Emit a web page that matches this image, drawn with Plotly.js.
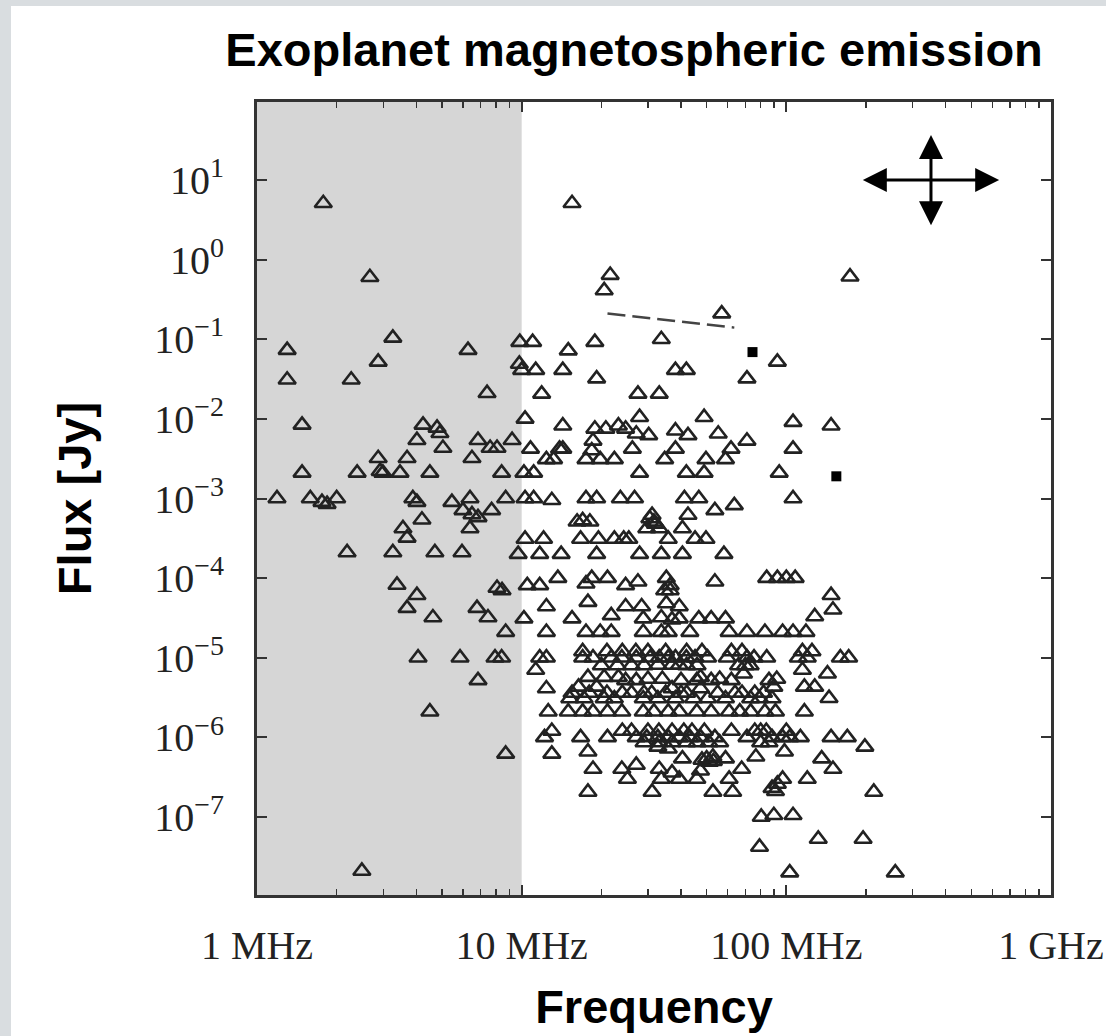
<!DOCTYPE html>
<html>
<head>
<meta charset="utf-8">
<script src="https://cdn.plot.ly/plotly-3.0.1.min.js"></script>
<style>
html, body { margin: 0; padding: 0; background: #d9dde0; }
#chart { position: absolute; left: 11px; top: 6px; width: 1095px; height: 1030px; background: #fff; }
</style>
</head>
<body>
<div id="chart"></div>
<script>
// ---- axis ticks ----
const xTickVals = [1, 10, 100, 1000];
const xTickText = ['1 MHz', '10 MHz', '100 MHz', '1 GHz'];
const yTickVals = [1e-7, 1e-6, 1e-5, 1e-4, 1e-3, 1e-2, 1e-1, 1, 10];
const yTickText = ['10<sup>−7</sup>', '10<sup>−6</sup>', '10<sup>−5</sup>', '10<sup>−4</sup>', '10<sup>−3</sup>',
                   '10<sup>−2</sup>', '10<sup>−1</sup>', '10<sup>0</sup>', '10<sup>1</sup>'];

// ---- shaded band (ionospheric cutoff), MHz ----
const bandFreq = [1, 10];

// ---- predicted exoplanet fluxes [frequency MHz, flux Jy], below 10 MHz ----
const lowFreqPts = [
  [1.78,5.1],[2.67,0.6],[1.30,0.073],[1.30,0.031],[2.27,0.031],[2.87,0.052],[3.26,0.104],[6.27,0.073],[7.4,0.021],
  [1.48,0.0084],[4.24,0.0084],[4.79,0.0077],[4.91,0.0066],[5.04,0.0043],[4.02,0.0054],[6.84,0.0054],[7.6,0.0043],
  [8.07,0.0043],[9.2,0.0054],[2.87,0.0032],[3.69,0.0032],[6.49,0.0032],[1.48,0.0021],[2.39,0.0021],[2.92,0.0022],
  [2.99,0.0021],[3.47,0.0021],[4.5,0.0021],[8.4,0.0021],
  [1.19,1e-3],[1.59,1e-3],[1.76,9e-4],[1.84,8.5e-4],[2.0,1e-3],[3.88,1e-3],[4.02,9e-4],[5.45,9e-4],[6.38,1e-3],
  [6.0,7.1e-4],[6.49,6.3e-4],[6.84,5.8e-4],[7.7,7.1e-4],[4.2,5.4e-4],[3.56,4.2e-4],[3.69,3.2e-4],[6.38,4.2e-4],
  [2.19,2.1e-4],[3.26,2.1e-4],[4.7,2.1e-4],[5.95,2.1e-4],[3.38,8.2e-5],[8.07,7.5e-5],[4.02,6.1e-5],[3.69,4.2e-5],
  [4.62,3.2e-5],[6.78,4.2e-5],[7.46,3.2e-5],[4.06,1e-5],[5.85,1e-5],[7.93,1e-5],[6.84,5.2e-6],[4.5,2.1e-6],
  [2.49,2.1e-8]
];

// ---- predicted fluxes, upper part (>= ~9 MHz, flux > 2e-3 Jy) ----
const highFluxPts = [
  [15.5,5.1],[21.6,0.64],[20.5,0.41],[174,0.61],[57,0.21],[9.84,0.092],[11.0,0.092],[18.9,0.092],[33.7,0.10],
  [15.0,0.072],[92.5,0.052],[9.8,0.049],[10.0,0.041],[11.3,0.041],[14.3,0.041],[38.1,0.041],[41.9,0.041],
  [19.2,0.032],[71,0.032],[11.9,0.0206],[27.5,0.0206],[33.1,0.0206],[10.3,0.01],[48.9,0.0105],[27.9,0.0105],
  [14.3,0.0082],[106,0.0091],[147.6,0.0082],[18.9,0.0075],[20.8,0.0075],[23.2,0.0082],[24.7,0.0075],
  [27.1,0.0065],[30.2,0.0062],[38.1,0.0071],[42.5,0.0062],[55.3,0.0065],[71,0.0053],[18.6,0.0053],[18.4,0.004],
  [10.8,0.0042],[13.9,0.0042],[14.3,0.0042],[26.2,0.0042],[38.1,0.0042],[61.8,0.0042],[106,0.0042],
  [12.4,0.0031],[13.2,0.0031],[17.5,0.0031],[19.8,0.0031],[22.4,0.0031],[34.7,0.0031],[49.7,0.0031],[58.9,0.0031],
  [10.2,0.0021],[11.1,0.0021],[27.9,0.0021],[41.9,0.0021],[48.9,0.0021],[94,0.0021]
];

// ---- predicted fluxes, lower part (>= ~8 MHz, flux <= 1e-3 Jy) ----
const lowFluxPts = [
  [8.7,1e-3],[10.3,1e-3],[11.1,1e-3],[13.0,9.5e-4],[17.5,1e-3],[19.2,1e-3],[23.6,1e-3],[26.7,1e-3],[41.2,1e-3],
  [46.7,1e-3],[106,1e-3],[53.7,7.1e-4],[63.6,8.2e-4],
  [16.2,5.1e-4],[18.1,5.1e-4],[31.1,6.2e-4],[31.6,5.1e-4],[42.5,6.2e-4],[29.7,4.2e-4],[33.1,4.2e-4],[40.5,4.2e-4],
  [17.0,5.3e-4],[30.5,5.6e-4],[32.0,4.8e-4],
  [10.3,3.1e-4],[12.1,3.1e-4],[16.7,3.1e-4],[19.5,3.1e-4],[22.4,3.1e-4],[24.3,3.1e-4],[25.4,3.1e-4],[35.8,3.1e-4],
  [45.2,3.1e-4],[49.7,3.1e-4],
  [9.7,2e-4],[11.7,2e-4],[14.1,2e-4],[19.2,2e-4],[27.9,2e-4],[33.7,2e-4],[40.5,2e-4],[58.1,2e-4],
  [10.5,8.1e-5],[11.7,8.1e-5],[13.7,1e-4],[17.5,8.5e-5],[18.4,1e-4],[21.1,1e-4],[24.7,8.1e-5],[27.5,9e-5],
  [35.2,1e-4],[36.4,8.1e-5],[53.7,9e-5],[84.3,1e-4],[92.5,1e-4],[100,1e-4],[108,1e-4],
  [8.43,7e-5],[147.6,6.1e-5],[150,4e-5],[34.7,7e-5],[36.4,7e-5],[17.8,5e-5],[12.4,4.4e-5],[24.7,4.4e-5],
  [28.4,4.4e-5],[35.2,4.8e-5],[39.4,4.4e-5],
  [10.2,3.1e-5],[15.5,3.1e-5],[21.8,3.4e-5],[28.8,3.1e-5],[33.7,3.2e-5],[37,3e-5],[39.4,3.1e-5],[46.7,3.1e-5],
  [52,3.1e-5],[58.9,3.1e-5],[128,3.3e-5],
  [8.7,2.1e-5],[12.4,2.1e-5],[17.5,2.1e-5],[19.8,2.1e-5],[21.8,2.1e-5],[28.8,2.1e-5],[33.7,2.1e-5],[35.8,2.1e-5],
  [43.2,2.1e-5],[60.8,2.1e-5],[71,2.1e-5],[83,2.1e-5],[96.8,2.1e-5],[106,2.1e-5],[118.6,2.1e-5],
  [17.0,1.2e-5],[21.0,1.2e-5],[24.0,1.2e-5],[27.0,1.2e-5],[30.0,1.2e-5],[35.0,1.2e-5],[42.0,1.2e-5],[48.0,1.2e-5],
  [62.0,1.2e-5],[68.0,1.2e-5],[115,1.2e-5],[125,1.2e-5],
  [8.4,1e-5],[11.7,1e-5],[12.4,1e-5],[17.0,1e-5],[18.6,1e-5],[21.8,1e-5],[23.9,1e-5],[27.1,1e-5],[30.6,1e-5],
  [33.1,1e-5],[35.8,1e-5],[38.1,1e-5],[41.9,1e-5],[45.2,1e-5],[50.4,1e-5],[59.8,1e-5],[71,1e-5],[75.5,1e-5],
  [84.3,1e-5],[111,1e-5],[120,1e-5],[160,1e-5],[172,1e-5],
  [32.7,8.1e-6],[37,8.1e-6],[39.4,8.1e-6],[11.3,7e-6],[68.9,6.3e-6],[115,7e-6],[143,6.3e-6],
  [20.0,8e-6],[23.0,8e-6],[26.0,8e-6],[29.0,8e-6],[42.0,8e-6],[46.0,8e-6],[66.0,8e-6],[70.0,8e-6],[73.0,8e-6],
  [17.8,5.7e-6],[20.5,5.7e-6],[23.2,5.7e-6],[24.7,5.2e-6],[27.1,5.2e-6],[47.4,5.7e-6],[45.9,5.2e-6],
  [30.0,5.4e-6],[34.0,5.4e-6],[40.0,5.2e-6],[52.0,5.2e-6],[56.0,5.4e-6],[62.0,5.2e-6],[86.0,5.2e-6],[92.0,5.4e-6],
  [12.4,4.1e-6],[16.4,4.3e-6],[19.2,4.3e-6],[37,4.1e-6],[47.4,4.1e-6],[89.7,4.3e-6],[117,4.3e-6],[128,4.3e-6],
  [145,3.1e-6],
  [15.5,3.6e-6],[18.0,3.6e-6],[21.0,3.6e-6],[24.0,3.6e-6],[26.0,3.6e-6],[29.0,3.6e-6],[31.0,3.6e-6],[35.0,3.6e-6],
  [40.0,3.6e-6],[42.0,3.6e-6],[55.0,3.6e-6],[64.0,3.6e-6],[68.0,3.6e-6],[76.0,3.6e-6],[82.0,3.6e-6],
  [15.2,3.07e-6],[17.2,3.07e-6],[20.5,3.07e-6],[22.4,3.07e-6],[28.8,3.07e-6],[32.7,3.07e-6],[38.1,3.07e-6],
  [44.6,3.07e-6],[50.4,3.07e-6],[58.9,3.07e-6],[73.3,3.07e-6],[79.2,3.07e-6],[88.3,3.07e-6],
  [12.6,2.1e-6],[15.0,2.1e-6],[17.0,2.1e-6],[18.6,2.1e-6],[21.1,2.1e-6],[23.9,2.1e-6],[28.8,2.1e-6],[31.6,2.1e-6],
  [35.8,2.1e-6],[39.4,2.1e-6],[45.9,2.1e-6],[52,2.1e-6],[60.8,2.1e-6],[66.7,2.1e-6],[73.3,2.1e-6],[83,2.1e-6],
  [91,2.1e-6],[117,2.1e-6],
  [13.0,1.2e-6],[24.0,1.2e-6],[26.0,1.2e-6],[30.0,1.2e-6],[33.0,1.2e-6],[37.0,1.2e-6],[41.0,1.2e-6],[44.0,1.2e-6],
  [49.0,1.2e-6],[62.0,1.2e-6],[76.0,1.2e-6],[80.0,1.2e-6],[84.0,1.2e-6],[100,1.2e-6],
  [12.2,1e-6],[16.7,1e-6],[21.1,1e-6],[27.1,1e-6],[29.7,1e-6],[32.7,1e-6],[35.8,1e-6],[39.4,1e-6],[43.2,1e-6],
  [47.4,1e-6],[53.7,1e-6],[71,1e-6],[88.3,1e-6],[96.8,1e-6],[103,1e-6],[113,1e-6],[147.6,1e-6],[170,1e-6],
  [29.0,8.6e-7],[33.0,8.6e-7],[37.0,8.6e-7],[42.0,8.6e-7],[46.0,8.6e-7],[51.0,8.6e-7],[56.0,8.6e-7],[80.0,8.6e-7],
  [86.0,8.6e-7],
  [8.7,6.2e-7],[13.0,6.2e-7],[17.8,6.6e-7],[32.7,7.6e-7],[35.8,7.2e-7],[40.5,5.4e-7],[52.8,5.7e-7],[58.9,5.4e-7],
  [76.7,5.7e-7],[98.4,6.6e-7],[136,5.4e-7],[198,7.6e-7],[51.2,4.9e-7],[48.0,5.2e-7],[50.0,5.4e-7],[53.0,5.0e-7],
  [18.6,4e-7],[23.9,4e-7],[27.1,4.5e-7],[33.1,4e-7],[37,3.6e-7],[47.4,3.8e-7],[67.8,4e-7],[150,4e-7],
  [25.1,3e-7],[33.7,3e-7],[39.4,3e-7],[45.9,3e-7],[60.8,3e-7],[96.8,3e-7],[120,3e-7],
  [17.8,2.06e-7],[31.1,2.06e-7],[52.8,2.06e-7],[62.7,2.06e-7],[91,2.1e-7],[214,2.06e-7],[88.3,2.3e-7],[92.5,2.6e-7],
  [80.4,1e-7],[89.7,1.05e-7],[106,1.05e-7],
  [79.2,4.2e-8],[132,5.3e-8],[195,5.3e-8],[103,2e-8],[258,2e-8]
];

// ---- observed (filled squares) ----
const obsFreq = [74.5, 154.5];
const obsFlux = [0.069, 0.0019];

// ---- dashed segment ----
const dashFreq = [21.1, 63.6];
const dashFlux = [0.21, 0.14];

// ---- arrow cross (uncertainty indicator) ----
const arrowHFreq = [192, 637];   // horizontal arrow ends, MHz
const arrowHFlux = 10;           // Jy
const arrowVFreq = 352;          // MHz
const arrowVFlux = [2.58, 36.9]; // vertical arrow ends, Jy

// ---- minor x ticks ----
const minorX = [];
[1, 10, 100].forEach(d => { for (let k = 2; k <= 9; k++) minorX.push(k * d); });

const allPts = lowFreqPts.concat(highFluxPts, lowFluxPts);

const traces = [
  {
    x: bandFreq.concat(bandFreq.slice().reverse()),
    y: [1e-10, 1e-10, 1e4, 1e4],
    type: 'scatter', mode: 'lines', fill: 'toself',
    fillcolor: '#d6d6d6', line: {width: 0}, hoverinfo: 'skip'
  },
  {
    x: dashFreq, y: dashFlux, type: 'scatter', mode: 'lines',
    line: {color: '#444', width: 2.5, dash: '18px,7px'}
  },
  {
    x: allPts.map(p => p[0]), y: allPts.map(p => p[1]),
    type: 'scatter', mode: 'markers',
    marker: {symbol: 'triangle-up-open', size: 15, color: '#222', line: {width: 2.6, color: '#222'}}
  },
  {
    x: obsFreq, y: obsFlux, type: 'scatter', mode: 'markers',
    marker: {symbol: 'square', size: 10, color: '#000'}
  }
];

const tickFont = {family: 'Liberation Serif, Times New Roman, serif', size: 40, color: '#222'};
const titleFont = {family: 'Liberation Sans, Arial, sans-serif', size: 47, color: '#000'};

const layout = {
  width: 1095, height: 1030,
  margin: {l: 246, r: 55, t: 96, b: 141},
  paper_bgcolor: '#fff', plot_bgcolor: '#fff',
  showlegend: false,
  title: {
    text: '<b>Exoplanet magnetospheric emission</b>',
    font: {family: 'Liberation Sans, Arial, sans-serif', size: 47, color: '#000'},
    xref: 'container', x: 0.569, xanchor: 'center',
    yref: 'container', y: 0.958, yanchor: 'middle'
  },
  xaxis: {
    type: 'log', range: [0, 3],
    tickvals: xTickVals, ticktext: xTickText,
    ticks: 'inside', ticklen: 10, tickwidth: 2, tickcolor: '#333',
    minor: {tickvals: minorX, ticks: 'inside', ticklen: 6, tickwidth: 1.5, tickcolor: '#333', showgrid: false},
    showline: true, linecolor: '#333', linewidth: 3, mirror: 'allticks',
    showgrid: false, zeroline: false,
    tickfont: tickFont, ticklabelstandoff: 13,
    title: {text: '<b>Frequency</b>', font: titleFont, standoff: 24}
  },
  yaxis: {
    type: 'log', range: [-7.98, 1.98],
    tickvals: yTickVals, ticktext: yTickText,
    ticks: 'inside', ticklen: 10, tickwidth: 2, tickcolor: '#333',
    showline: true, linecolor: '#333', linewidth: 3, mirror: 'allticks',
    showgrid: false, zeroline: false,
    tickfont: tickFont, ticklabelstandoff: 22,
    title: {text: '<b>Flux [Jy]</b>', font: titleFont, standoff: 48}
  },
  annotations: [
    {
      xref: 'x', yref: 'y', axref: 'x', ayref: 'y',
      x: Math.log10(arrowHFreq[1]), y: Math.log10(arrowHFlux),
      ax: Math.log10(arrowHFreq[0]), ay: Math.log10(arrowHFlux),
      text: '', showarrow: true, arrowside: 'end+start',
      arrowhead: 2, arrowsize: 1.6, arrowwidth: 3, arrowcolor: '#000'
    },
    {
      xref: 'x', yref: 'y', axref: 'x', ayref: 'y',
      x: Math.log10(arrowVFreq), y: Math.log10(arrowVFlux[1]),
      ax: Math.log10(arrowVFreq), ay: Math.log10(arrowVFlux[0]),
      text: '', showarrow: true, arrowside: 'end+start',
      arrowhead: 2, arrowsize: 1.6, arrowwidth: 3, arrowcolor: '#000'
    }
  ]
};

Plotly.newPlot('chart', traces, layout, {displayModeBar: false, staticPlot: true});
</script>
</body>
</html>
